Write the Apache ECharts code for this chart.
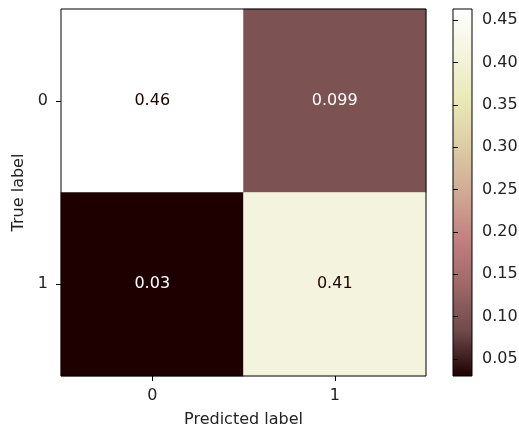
<!DOCTYPE html>
<html>
<head>
<meta charset="utf-8">
<script src="https://cdn.jsdelivr.net/npm/echarts@6/dist/echarts.min.js"></script>
<style>
  html, body { margin: 0; padding: 0; background: #fff; }
  #chart { width: 519px; height: 429px; }
</style>
</head>
<body>
<div id="chart"></div>
<script>
// confusion matrix values (normalized)
const predictedLabels = ['0', '1'];
const trueLabels = ['0', '1'];
// rows = true label, cols = predicted label
const matrix = [
  [0.463, 0.099],
  [0.03, 0.41]
];
const colorbarTicks = [0.05, 0.10, 0.15, 0.20, 0.25, 0.30, 0.35, 0.40, 0.45];
const vMin = 0.03;
const vMax = 0.463;

// matplotlib "pink" colormap, sampled evenly
const pinkStops = ['#1e0000', '#704a4a', '#9f6868', '#c38080', '#d0aa93',
                   '#ddcca5', '#e9e9b4', '#f4f4dd', '#ffffff'];

const font = 'DejaVu Sans';
const textColor = '#222';

const cells = [];
matrix.forEach((row, r) => {
  row.forEach((v, c) => {
    const dark = v < (vMin + vMax) / 2;
    cells.push({
      value: [c, r, v],
      label: { color: dark ? '#ffffff' : '#1e0000' }
    });
  });
});

const fmt2g = v => String(parseFloat(v.toPrecision(2)));

const chart = echarts.init(document.getElementById('chart'));
chart.setOption({
  animation: false,
  grid: [
    {
      left: 61, top: 9, width: 365, height: 367,
      outerBoundsMode: 'none',
      show: true, borderColor: '#000', borderWidth: 1, z: 5,
      backgroundColor: 'transparent'
    },
    {
      left: 453, top: 9, width: 19, height: 367,
      outerBoundsMode: 'none',
      show: true, borderColor: '#000', borderWidth: 1,
      backgroundColor: {
        type: 'linear', x: 0, y: 1, x2: 0, y2: 0,
        colorStops: pinkStops.map((c, i) => ({ offset: i / (pinkStops.length - 1), color: c }))
      }
    }
  ],
  xAxis: [
    {
      type: 'category',
      gridIndex: 0,
      data: predictedLabels,
      z: 6,
      axisLine: { show: false },
      axisTick: { show: true, alignWithLabel: true, length: 5, lineStyle: { color: '#000' } },
      axisLabel: { fontFamily: font, fontSize: 16, color: textColor, margin: 12 },
      splitLine: { show: false },
      name: 'Predicted label',
      nameLocation: 'middle',
      nameGap: 36,
      nameTextStyle: { fontFamily: font, fontSize: 16, color: textColor }
    },
    {
      type: 'value', gridIndex: 1, show: false
    }
  ],
  yAxis: [
    {
      type: 'category',
      gridIndex: 0,
      data: trueLabels,
      inverse: true,
      z: 6,
      axisLine: { show: false },
      axisTick: { show: true, alignWithLabel: true, length: 5, lineStyle: { color: '#000' } },
      axisLabel: { fontFamily: font, fontSize: 16, color: textColor, margin: 13 },
      splitLine: { show: false },
      name: 'True label',
      nameLocation: 'middle',
      nameGap: 33,
      nameTextStyle: { fontFamily: font, fontSize: 16, color: textColor }
    },
    {
      type: 'value',
      gridIndex: 1,
      position: 'right',
      min: vMin,
      max: vMax,
      axisLine: { show: false },
      axisTick: { show: true, length: 5, customValues: colorbarTicks, lineStyle: { color: '#000' } },
      axisLabel: {
        customValues: colorbarTicks,
        formatter: v => v.toFixed(2),
        fontFamily: font, fontSize: 16, color: textColor, margin: 10
      },
      splitLine: { show: false }
    }
  ],
  visualMap: {
    show: false,
    type: 'continuous',
    seriesIndex: 0,
    min: vMin,
    max: vMax,
    dimension: 2,
    inRange: { color: pinkStops }
  },
  series: [
    {
      type: 'heatmap',
      xAxisIndex: 0,
      yAxisIndex: 0,
      data: cells,
      label: {
        show: true,
        fontFamily: font,
        fontSize: 16,
        formatter: p => fmt2g(p.value[2])
      },
      emphasis: { disabled: true }
    }
  ]
});
</script>
</body>
</html>
